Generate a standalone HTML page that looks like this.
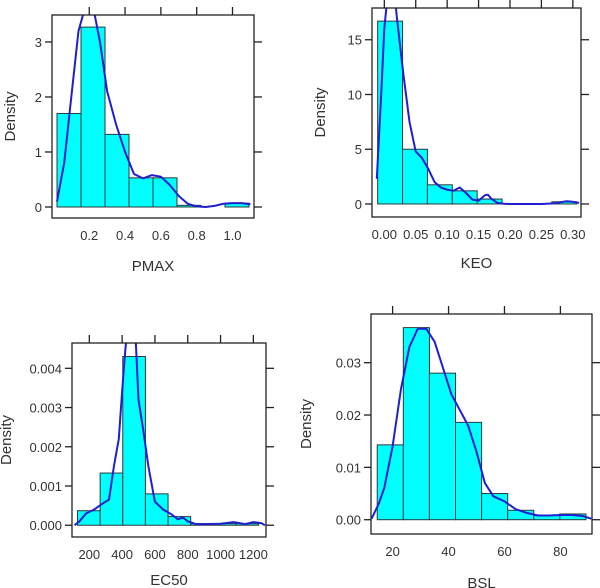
<!DOCTYPE html>
<html><head><meta charset="utf-8"><style>
html,body{margin:0;padding:0;background:#fff;}
svg{display:block;font-family:"Liberation Sans",Arial,sans-serif;}
</style></head><body>
<svg id="chart" width="600" height="588" viewBox="0 0 600 588" xmlns="http://www.w3.org/2000/svg"></svg>
<script>
// PMAX
const pmaxBinStart = 0.02, pmaxBinWidth = 0.134;
const pmaxHeights = [1.7, 3.27, 1.32, 0.53, 0.53, 0.03, 0, 0.07];
const pmaxDensX = [0.02,0.06,0.1,0.14,0.17,0.2,0.23,0.26,0.3,0.35,0.4,0.45,0.5,0.55,0.6,0.65,0.7,0.75,0.8,0.85,0.9,0.95,1.0,1.05,1.1];
const pmaxDensY = [0.1,0.8,2.0,3.2,3.55,3.65,3.5,3.0,2.1,1.5,1.0,0.6,0.52,0.58,0.55,0.4,0.2,0.06,0.01,0,0.02,0.06,0.07,0.07,0.05];
const pmaxXTicks = [0.2,0.4,0.6,0.8,1.0];
const pmaxXTickLabels = ["0.2","0.4","0.6","0.8","1.0"];
const pmaxYTicks = [0,1,2,3];
const pmaxYTickLabels = ["0","1","2","3"];
// KEO
const keoBinStart = -0.0106, keoBinWidth = 0.0396;
const keoHeights = [16.7, 5.0, 1.75, 1.2, 0.45, 0, 0, 0.2];
const keoDensX = [-0.012,-0.005,0.0,0.005,0.015,0.02,0.03,0.04,0.05,0.06,0.07,0.08,0.09,0.1,0.11,0.12,0.13,0.14,0.15,0.16,0.165,0.17,0.18,0.19,0.2,0.25,0.27,0.29,0.3,0.31];
const keoDensY = [2.3,10,16,19,20,17,12,7.5,4.8,4.2,3.2,2.0,1.5,1.3,1.2,1.5,1.0,0.4,0.3,0.8,0.85,0.5,0.1,0.02,0,0,0.05,0.25,0.2,0.1];
const keoXTicks = [0,0.05,0.1,0.15,0.2,0.25,0.3];
const keoXTickLabels = ["0.00","0.05","0.10","0.15","0.20","0.25","0.30"];
const keoYTicks = [0,5,10,15];
const keoYTickLabels = ["0","5","10","15"];
// EC50
const ec50BinStart = 128, ec50BinWidth = 138;
const ec50Heights = [0.00037,0.00133,0.0043,0.0008,0.00022,0.00004,0.00004,0.00004];
const ec50DensX = [110,140,180,230,280,320,350,380,400,420,440,480,500,530,560,600,650,700,740,770,800,850,900,1000,1080,1150,1200,1250,1270];
const ec50DensY = [0,0.0001,0.0003,0.0004,0.00055,0.00065,0.0015,0.0022,0.0034,0.0045,0.0052,0.005,0.0032,0.0024,0.0015,0.0006,0.0004,0.00028,0.00015,0.0002,0.0001,0.00003,0.00003,0.00004,0.00008,0.00003,0.00008,0.00005,0];
const ec50XTicks = [200,400,600,800,1000,1200];
const ec50XTickLabels = ["200","400","600","800","1000","1200"];
const ec50YTicks = [0,0.001,0.002,0.003,0.004];
const ec50YTickLabels = ["0.000","0.001","0.002","0.003","0.004"];
// BSL
const bslBinStart = 14.5, bslBinWidth = 9.33;
const bslHeights = [0.0143,0.0367,0.028,0.0186,0.005,0.0018,0.0008,0.0011];
const bslDensX = [12.5,15,17,20,23,26,29,32,35,38,41,44,47,50,53,56,60,64,68,72,76,80,84,88,91];
const bslDensY = [0.0002,0.003,0.006,0.014,0.025,0.033,0.0365,0.0365,0.034,0.029,0.024,0.021,0.018,0.013,0.007,0.0045,0.0035,0.002,0.0013,0.0008,0.0008,0.0009,0.0009,0.0007,0.0002];
const bslXTicks = [20,40,60,80];
const bslXTickLabels = ["20","40","60","80"];
const bslYTicks = [0,0.01,0.02,0.03];
const bslYTickLabels = ["0.00","0.01","0.02","0.03"];

const NS = "http://www.w3.org/2000/svg";
const svg = document.getElementById("chart");
function mk(tag, attrs, parent){
  const e = document.createElementNS(NS, tag);
  for (const k in attrs) e.setAttribute(k, attrs[k]);
  parent.appendChild(e);
  return e;
}
let clipN = 0;
function panel(p){
  const g = mk("g", {}, svg);
  
  
  const sx = v => p.L + (v - p.x0) / (p.x1 - p.x0) * (p.R - p.L);
  const sy = v => p.B - (v - p.y0) / (p.y1 - p.y0) * (p.B - p.T);
  const cid = "clip" + (clipN++);
  const cp = mk("clipPath", {id: cid}, g);
  mk("rect", {x: p.L, y: p.T, width: p.R - p.L, height: p.B - p.T}, cp);
  const bars = mk("g", {"clip-path": "url(#" + cid + ")"}, g);
  p.heights.forEach((h, i) => {
    if (h <= 0) return;
    const a = sx(p.binStart + i * p.binW), b = sx(p.binStart + (i + 1) * p.binW);
    const r = mk("rect", {x: a, y: sy(h), width: b - a, height: sy(0) - sy(h), fill: "#00FFFF", stroke: "#2a3a3a", "stroke-width": 1}, bars);
    
    
  });
  const pts = p.dx.map((x, i) => sx(x).toFixed(1) + "," + sy(p.dy[i]).toFixed(1)).join(" ");
  const line = mk("polyline", {points: pts, fill: "none", stroke: "#1f1fd0", "stroke-width": 2, "stroke-linejoin": "round"}, bars);
  
  
  const box = mk("rect", {x: p.L, y: p.T, width: p.R - p.L, height: p.B - p.T, fill: "none", stroke: "#222", "stroke-width": 1.3}, g);
  
  
  p.xt.forEach((v, i) => {
    const x = sx(v);
    mk("line", {x1: x, x2: x, y1: p.T, y2: p.T - 8, stroke: "#222", "stroke-width": 1.3}, g);
    const t = mk("text", {x: x, y: p.B + 22, "text-anchor": "middle", "font-size": 13, fill: "#333"}, g);
    t.textContent = p.xl[i];
    
    
  });
  p.yt.forEach((v, i) => {
    const y = sy(v);
    mk("line", {x1: p.L, x2: p.L - 7, y1: y, y2: y, stroke: "#222", "stroke-width": 1.3}, g);
    mk("line", {x1: p.R, x2: p.R + 8, y1: y, y2: y, stroke: "#222", "stroke-width": 1.3}, g);
    const t = mk("text", {x: p.L - 10, y: y + 5, "text-anchor": "end", "font-size": 13, fill: "#333"}, g);
    t.textContent = p.yl[i];
    
    
  });
  const xt = mk("text", {x: (p.L + p.R) / 2, y: p.xTitleY, "text-anchor": "middle", "font-size": 15, fill: "#333"}, g);
  xt.textContent = p.title;
  
  
  const yt = mk("text", {x: 0, y: 0, "text-anchor": "middle", "font-size": 15, fill: "#333", transform: "translate(" + p.yTitleX + "," + (p.T + p.B) / 2 + ") rotate(-90)"}, g);
  yt.textContent = "Density";
  
  
}
panel({id:"pmax", L:52, R:254, T:15, B:218, x0:-0.008, x1:1.12, y0:-0.2, y1:3.49,
  binStart:pmaxBinStart, binW:pmaxBinWidth, heights:pmaxHeights, dx:pmaxDensX, dy:pmaxDensY,
  xt:pmaxXTicks, xl:pmaxXTickLabels, yt:pmaxYTicks, yl:pmaxYTickLabels, title:"PMAX", xTitleY:271, yTitleX:15});
panel({id:"keo", L:372, R:581, T:8, B:217, x0:-0.0196, x1:0.313, y0:-1.19, y1:17.9,
  binStart:keoBinStart, binW:keoBinWidth, heights:keoHeights, dx:keoDensX, dy:keoDensY,
  xt:keoXTicks, xl:keoXTickLabels, yt:keoYTicks, yl:keoYTickLabels, title:"KEO", xTitleY:268, yTitleX:325});
panel({id:"ec50", L:72, R:266, T:343, B:537, x0:94.5, x1:1277, y0:-0.0003, y1:0.004645,
  binStart:ec50BinStart, binW:ec50BinWidth, heights:ec50Heights, dx:ec50DensX, dy:ec50DensY,
  xt:ec50XTicks, xl:ec50XTickLabels, yt:ec50YTicks, yl:ec50YTickLabels, title:"EC50", xTitleY:585, yTitleX:11});
panel({id:"bsl", L:371, R:592, T:314, B:534, x0:12.27, x1:91.3, y0:-0.00273, y1:0.0393,
  binStart:bslBinStart, binW:bslBinWidth, heights:bslHeights, dx:bslDensX, dy:bslDensY,
  xt:bslXTicks, xl:bslXTickLabels, yt:bslYTicks, yl:bslYTickLabels, title:"BSL", xTitleY:588, yTitleX:311});
</script>
</body></html>
